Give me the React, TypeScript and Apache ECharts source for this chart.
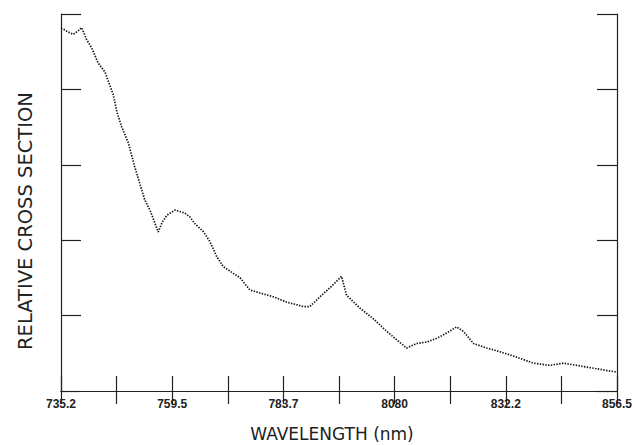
import React, { useEffect, useRef } from "react";
import * as echarts from "echarts";

const wavelengths = [735.2, 735.7, 736.8, 737.9, 739.0, 739.7, 740.8, 741.9, 743.3, 744.8, 745.7, 746.6, 747.4, 748.4, 749.9, 751.3, 752.8, 753.5, 754.6, 755.3, 756.4, 757.3, 758.3, 760.1, 762.2, 763.3, 764.4, 766.3, 767.7, 769.2, 770.6, 772.8, 774.3, 776.4, 778.6, 781.5, 784.4, 788.1, 789.5, 791.7, 793.9, 796.4, 797.5, 800.4, 803.3, 806.3, 808.4, 810.6, 812.8, 815.0, 817.2, 819.4, 821.5, 823.0, 825.2, 828.1, 831.0, 834.6, 838.2, 841.9, 844.8, 847.7, 850.6, 853.5, 856.5];
const crossSection = [4.81, 4.8, 4.76, 4.73, 4.78, 4.82, 4.66, 4.55, 4.35, 4.23, 4.08, 3.93, 3.7, 3.51, 3.29, 2.97, 2.67, 2.53, 2.4, 2.29, 2.11, 2.24, 2.33, 2.4, 2.36, 2.31, 2.22, 2.11, 1.98, 1.78, 1.65, 1.56, 1.5, 1.34, 1.3, 1.25, 1.18, 1.12, 1.12, 1.25, 1.37, 1.52, 1.27, 1.1, 0.96, 0.79, 0.68, 0.57, 0.63, 0.65, 0.7, 0.77, 0.85, 0.79, 0.63, 0.57, 0.52, 0.45, 0.37, 0.34, 0.37, 0.34, 0.31, 0.28, 0.25];
const xTicks = [735.2, 747.33, 759.46, 771.59, 783.72, 795.85, 807.98, 820.11, 832.24, 844.37, 856.5];
const xLabelValues = [735.2, 759.46, 783.72, 807.98, 832.24, 856.5];
const xLabelTexts = ["735.2", "759.5", "783.7", "8080", "832.2", "856.5"];

export default function App() {
  const ref = useRef<HTMLDivElement>(null);
  useEffect(() => {
    const chart = echarts.init(ref.current!, null, { renderer: "svg" });
    const frame = { show: true, lineStyle: { color: "#222", width: 1.2 } };
    const labelFor = (v: number) => {
      const i = xLabelValues.findIndex((x) => Math.abs(x - v) < 0.05);
      return i >= 0 ? xLabelTexts[i] : "";
    };
    chart.setOption({
      animation: false,
      backgroundColor: "#fff",
      grid: { left: 61, top: 14, right: 18, bottom: 54 },
      xAxis: [
        {
          type: "value", min: 735.2, max: 856.5, position: "bottom",
          axisLine: frame,
          axisTick: { show: true, inside: true, length: 15, customValues: xTicks, lineStyle: { color: "#222", width: 1.2 } },
          axisLabel: {
            show: true, customValues: xLabelValues, formatter: labelFor, margin: 7,
            fontFamily: "Liberation Sans", fontWeight: "bold", fontSize: 12, color: "#222",
          },
          splitLine: { show: false },
        },
        {
          type: "value", min: 735.2, max: 856.5, position: "top",
          axisLine: frame,
          axisTick: { show: true, inside: true, length: 13, customValues: xTicks, lineStyle: { color: "#222", width: 1.2 } },
          axisLabel: { show: false },
          splitLine: { show: false },
        },
      ],
      yAxis: [
        {
          type: "value", min: 0, max: 5, interval: 1, position: "left",
          axisLine: frame,
          axisTick: { show: true, inside: true, length: 20, lineStyle: { color: "#222", width: 1.2 } },
          axisLabel: { show: false },
          splitLine: { show: false },
        },
        {
          type: "value", min: 0, max: 5, interval: 1, position: "right",
          axisLine: frame,
          axisTick: { show: true, inside: true, length: 20, lineStyle: { color: "#222", width: 1.2 } },
          axisLabel: { show: false },
          splitLine: { show: false },
        },
      ],
      series: [
        {
          type: "line",
          data: wavelengths.map((w, i) => [w, crossSection[i]]),
          showSymbol: false,
          symbol: "none",
          lineStyle: { color: "#111", width: 1.7, type: [1.4, 1.4] },
        },
      ],
      graphic: [
        {
          type: "text", x: 332, y: 434,
          style: {
            text: "WAVELENGTH (nm)", fontFamily: "DejaVu Sans", fontSize: 17,
            fill: "#222", align: "center", verticalAlign: "middle",
          },
        },
        {
          type: "text", x: 25, y: 221, rotation: Math.PI / 2,
          style: {
            text: "RELATIVE CROSS SECTION", fontFamily: "DejaVu Sans", fontSize: 19.5,
            fill: "#222", align: "center", verticalAlign: "middle",
          },
        },
      ],
    });
    return () => chart.dispose();
  }, []);
  return <div ref={ref} style={{ position: "fixed", left: 0, top: 0, width: 635, height: 445 }} />;
}
